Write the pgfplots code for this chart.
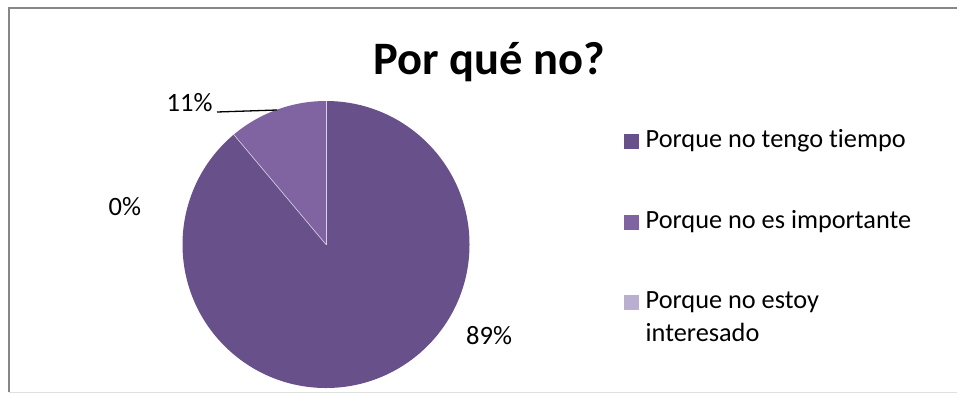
\documentclass[border=0pt]{standalone}
\usepackage{pgfplots}
\pgfplotsset{compat=1.18}
\usepackage{pgfplotstable}
\usepackage{fontspec}
\setmainfont{Carlito}[Ligatures=NoCommon]
\definecolor{sA}{HTML}{68508A}
\definecolor{sB}{HTML}{8064A2}
\definecolor{sC}{HTML}{BAAFD0}
\definecolor{frame}{HTML}{878787}
\pgfplotstableread{
cat value
1 8
2 1
3 0
}\piedata
\begin{document}
\begin{tikzpicture}
\pgfplotstablegetelem{0}{value}\of\piedata \let\va\pgfplotsretval
\pgfplotstablegetelem{1}{value}\of\piedata \let\vb\pgfplotsretval
\pgfplotstablegetelem{2}{value}\of\piedata \let\vc\pgfplotsretval
\pgfmathsetmacro{\tot}{\va+\vb+\vc}
\pgfmathsetmacro{\aA}{90}
\pgfmathsetmacro{\aB}{90-360*\va/\tot}
\pgfmathsetmacro{\aC}{\aB-360*\vb/\tot}
\begin{axis}[
  x=1pt, y=1pt, xmin=0, xmax=957, ymin=0, ymax=393,
  y dir=reverse, hide axis, clip=false,
  anchor=north west, at={(0,0)},
]
\addplot[draw=none] coordinates {(0,0) (957,393)};
% slices
\fill[sA] (axis cs:326,244.5) -- ++(\aA:143.5pt) arc[start angle=\aA, end angle=\aB, radius=143.5pt] -- cycle;
\fill[sB] (axis cs:326,244.5) -- ++(\aB:143.5pt) arc[start angle=\aB, end angle=\aC, radius=143.5pt] -- cycle;
\draw[white!70!sB, line width=0.6pt] (axis cs:326,244.5) -- ++(\aA:143.5pt);
\draw[white!70!sB, line width=0.6pt] (axis cs:326,244.5) -- ++(\aB:143.5pt);
% frame
\draw[frame, line width=1.2pt] (axis cs:957,8) -- (axis cs:9,8) -- (axis cs:9,392);
\draw[black!12, line width=1pt] (axis cs:9,392.5) -- (axis cs:957,392.5);
% title
\node[anchor=base, inner sep=0pt, font=\fontsize{46.5}{56}\selectfont\bfseries] at (axis cs:489,74) {Por qué no?};
% data labels
\node[anchor=base west, inner sep=0pt, font=\fontsize{26.5}{32}\selectfont] at (axis cs:166.5,111.7) {11\%};
\draw[black, line width=1.3pt] (axis cs:217,112) -- (axis cs:277,110);
\node[anchor=base west, inner sep=0pt, font=\fontsize{26.5}{32}\selectfont] at (axis cs:108.5,215.7) {0\%};
\node[anchor=base west, inner sep=0pt, font=\fontsize{26.5}{32}\selectfont] at (axis cs:466,344.3) {89\%};
% legend
\fill[sA] (axis cs:624,134) rectangle (axis cs:639,149);
\fill[sB] (axis cs:624,214.5) rectangle (axis cs:639,229.5);
\fill[sC] (axis cs:624,294.5) rectangle (axis cs:639,309.5);
\node[anchor=base west, font=\fontsize{26.3}{32}\selectfont, inner sep=0pt] at (axis cs:645.5,147.7) {Porque no tengo tiempo};
\node[anchor=base west, font=\fontsize{26.3}{32}\selectfont, inner sep=0pt] at (axis cs:645.5,228.7) {Porque no es importante};
\node[anchor=base west, font=\fontsize{26.3}{32}\selectfont, inner sep=0pt] at (axis cs:645.5,308.7) {Porque no estoy};
\node[anchor=base west, font=\fontsize{26.3}{32}\selectfont, inner sep=0pt] at (axis cs:645.5,341.5) {interesado};
\end{axis}
\pgfresetboundingbox
\path (0,0) rectangle (957pt,-393pt);
\end{tikzpicture}
\end{document}
